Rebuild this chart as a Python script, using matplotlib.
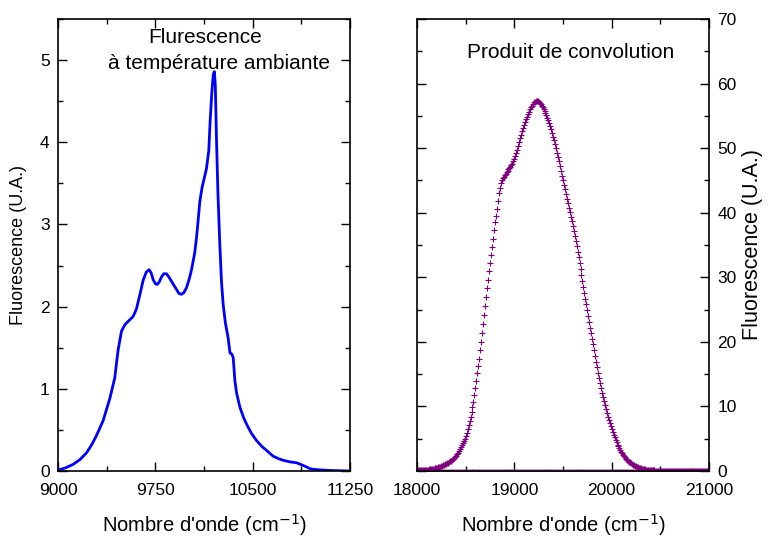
import numpy as np
import matplotlib
matplotlib.use("Agg")
import matplotlib.pyplot as plt
from matplotlib.ticker import MultipleLocator

plt.rcParams['font.family'] = ['Liberation Sans', 'DejaVu Sans']

# ---- Left panel: fluorescence at room temperature ----
fluo_x = [9000, 9060, 9116, 9170, 9219, 9260, 9296, 9347, 9399, 9437, 9463, 9489,
          9515, 9540, 9579, 9604, 9630, 9656, 9680, 9702, 9718, 9733, 9750, 9764,
          9780, 9797, 9815, 9836, 9855, 9874, 9893, 9913, 9932, 9951, 9970, 9990,
          10010, 10029, 10054, 10068, 10080, 10093, 10110, 10125, 10144, 10162,
          10172, 10185, 10197, 10205, 10212, 10221, 10232, 10247, 10260, 10273,
          10290, 10311, 10325, 10340, 10350, 10363, 10376, 10401, 10430, 10453,
          10490, 10530, 10570, 10607, 10658, 10700, 10736, 10790, 10839, 10870,
          10900, 10940, 10967, 11050, 11121, 11250]
fluo_y = [0.01, 0.04, 0.08, 0.14, 0.22, 0.32, 0.43, 0.61, 0.88, 1.13, 1.47, 1.70,
          1.78, 1.82, 1.88, 1.97, 2.14, 2.32, 2.42, 2.45, 2.41, 2.33, 2.28, 2.27,
          2.30, 2.36, 2.40, 2.40, 2.36, 2.31, 2.26, 2.21, 2.16, 2.15, 2.17, 2.23,
          2.33, 2.45, 2.66, 2.85, 3.05, 3.28, 3.45, 3.55, 3.68, 3.90,
          4.25, 4.60, 4.83, 4.86, 4.70, 4.05, 3.40, 2.75, 2.30, 2.02,
          1.80, 1.62, 1.44, 1.42, 1.38, 1.10, 0.95, 0.78, 0.65, 0.57,
          0.46, 0.37, 0.30, 0.25, 0.18, 0.15, 0.13, 0.11, 0.10, 0.08,
          0.06, 0.03, 0.02, 0.01, 0.005, 0.0]

# ---- Right panel: convolution product ----
conv_x = np.arange(18000, 21001, 10)
conv_y = [
    0.10, 0.10, 0.10, 0.12, 0.15, 0.15, 0.15, 0.18, 0.20, 0.20,
    0.20, 0.22, 0.25, 0.28, 0.30, 0.33, 0.35, 0.38, 0.40, 0.42,
    0.45, 0.50, 0.55, 0.60, 0.65, 0.72, 0.80, 0.87, 0.95, 1.02,
    1.10, 1.20, 1.30, 1.40, 1.50, 1.62, 1.75, 1.90, 2.05, 2.22,
    2.40, 2.62, 2.85, 3.10, 3.35, 3.65, 3.95, 4.27, 4.60, 5.00,
    5.40, 5.95, 6.50, 7.10, 7.70, 8.40, 9.10, 9.90, 10.70, 11.70,
    12.80, 13.95, 15.10, 16.25, 17.40, 18.70, 20.00, 21.35, 22.70, 24.10,
    25.50, 26.90, 28.30, 29.60, 30.90, 32.15, 33.40, 34.70, 36.00, 37.25,
    38.50, 39.55, 40.60, 41.80, 43.00, 43.90, 44.60, 45.00, 45.30, 45.55,
    45.80, 46.05, 46.30, 46.50, 46.70, 46.90, 47.10, 47.35, 47.60, 47.95,
    48.30, 48.75, 49.20, 49.75, 50.30, 50.90, 51.50, 52.05, 52.60, 53.10,
    53.60, 54.05, 54.50, 54.90, 55.30, 55.65, 56.00, 56.30, 56.60, 56.85,
    57.10, 57.20, 57.30, 57.35, 57.30, 57.15, 57.00, 56.80, 56.60, 56.35,
    56.10, 55.80, 55.50, 55.10, 54.70, 54.30, 53.90, 53.40, 52.90, 52.35,
    51.80, 51.20, 50.60, 49.95, 49.30, 48.65, 48.00, 47.25, 46.50, 45.75,
    45.00, 44.30, 43.60, 42.90, 42.20, 41.50, 40.80, 40.10, 39.40, 38.65,
    37.90, 37.15, 36.40, 35.60, 34.80, 33.95, 33.10, 32.20, 31.30, 30.35,
    29.40, 28.50, 27.60, 26.70, 25.80, 24.90, 24.00, 23.10, 22.20, 21.35,
    20.50, 19.60, 18.70, 17.80, 16.90, 16.05, 15.20, 14.40, 13.60, 12.85,
    12.10, 11.45, 10.80, 10.20, 9.60, 9.00, 8.40, 7.90, 7.40, 6.95,
    6.50, 6.05, 5.60, 5.20, 4.80, 4.45, 4.10, 3.80, 3.50, 3.25,
    3.00, 2.75, 2.50, 2.30, 2.10, 1.92, 1.75, 1.60, 1.45, 1.32,
    1.20, 1.10, 1.00, 0.90, 0.80, 0.72, 0.65, 0.57, 0.50, 0.45,
    0.40, 0.35, 0.30, 0.27, 0.25, 0.22, 0.20, 0.17, 0.15, 0.13,
    0.12, 0.11, 0.10, 0.09, 0.08, 0.07, 0.06, 0.05, 0.05, 0.04,
    0.04, 0.04, 0.03, 0.03, 0.03, 0.03, 0.02, 0.02, 0.02, 0.02,
    0.02, 0.02, 0.02, 0.01, 0.01, 0.01, 0.01, 0.01, 0.01, 0.01,
    0.01, 0.01, 0.01, 0.01, 0.01, 0.01, 0.01, 0.01, 0.01, 0.01,
    0.01, 0.01, 0.01, 0.01, 0.01, 0.00, 0.00, 0.00, 0.00, 0.00,
    0.00, 0.00, 0.00, 0.00, 0.00, 0.00, 0.00, 0.00, 0.00, 0.00,
    0.00]
conv_baseline = np.zeros(len(conv_x))

left_xticks = [9000, 9750, 10500, 11250]
left_yticks = [0, 1, 2, 3, 4, 5]
right_xticks = [18000, 19000, 20000, 21000]
right_yticks = [0, 10, 20, 30, 40, 50, 60, 70]

fig = plt.figure(figsize=(7.68, 5.38), dpi=100)
ax1 = fig.add_axes([58/768, 1-471/538, (350-58)/768, (471-19)/538])
ax2 = fig.add_axes([417/768, 1-471/538, (709-417)/768, (471-19)/538])

ax1.plot(fluo_x, fluo_y, color='#0000ff', lw=2.0)
ax1.set_xlim(9000, 11250)
ax1.set_ylim(0, 5.5)
ax1.set_xticks(left_xticks)
ax1.set_yticks(left_yticks)
ax1.xaxis.set_minor_locator(MultipleLocator(375))
ax1.yaxis.set_minor_locator(MultipleLocator(0.5))
ax1.set_xlabel("Nombre d'onde (cm$^{-1}$)", fontsize=14.5, labelpad=10)
ax1.set_ylabel("Fluorescence (U.A.)", fontsize=13, labelpad=9)
ax1.text(0.505, 0.947, "Flurescence", transform=ax1.transAxes, fontsize=15,
         ha='center', va='baseline')
ax1.text(0.553, 0.889, "à température ambiante", transform=ax1.transAxes,
         fontsize=15, ha='center', va='baseline')

ax2.plot(conv_x, conv_baseline, linestyle='none', marker='+', ms=3.5,
         mew=0.7, color='#9b3b9b')
ax2.plot(conv_x, conv_y, linestyle='none', marker='+', ms=4, mew=0.8,
         color='#800080')
ax2.set_xlim(18000, 21000)
ax2.set_ylim(0, 70)
ax2.set_xticks(right_xticks)
ax2.set_yticks(right_yticks)
ax2.xaxis.set_minor_locator(MultipleLocator(500))
ax2.yaxis.set_minor_locator(MultipleLocator(5))
ax2.yaxis.tick_right()
ax2.yaxis.set_label_position('right')
ax2.set_xlabel("Nombre d'onde (cm$^{-1}$)", fontsize=14.5, labelpad=10)
ax2.set_ylabel("Fluorescence (U.A.)", fontsize=15.5, labelpad=4)
ax2.text(0.526, 0.914, "Produit de convolution", transform=ax2.transAxes,
         fontsize=15, ha='center', va='baseline')

for ax in (ax1, ax2):
    ax.tick_params(which='both', direction='in', top=True, bottom=True,
                   left=True, right=True, labelsize=12.5, colors='black')
    ax.tick_params(which='major', length=6.5, width=1)
    ax.tick_params(which='minor', length=3.5, width=1)
    ax.tick_params(axis='x', which='major', pad=8.5)
    ax.tick_params(axis='y', which='major', pad=6)
    for s in ax.spines.values():
        s.set_linewidth(1.2)
ax2.tick_params(axis='y', which='major', pad=6)
ax2.tick_params(labelleft=False, labelright=True)

fig.savefig("out.png", dpi=100)
